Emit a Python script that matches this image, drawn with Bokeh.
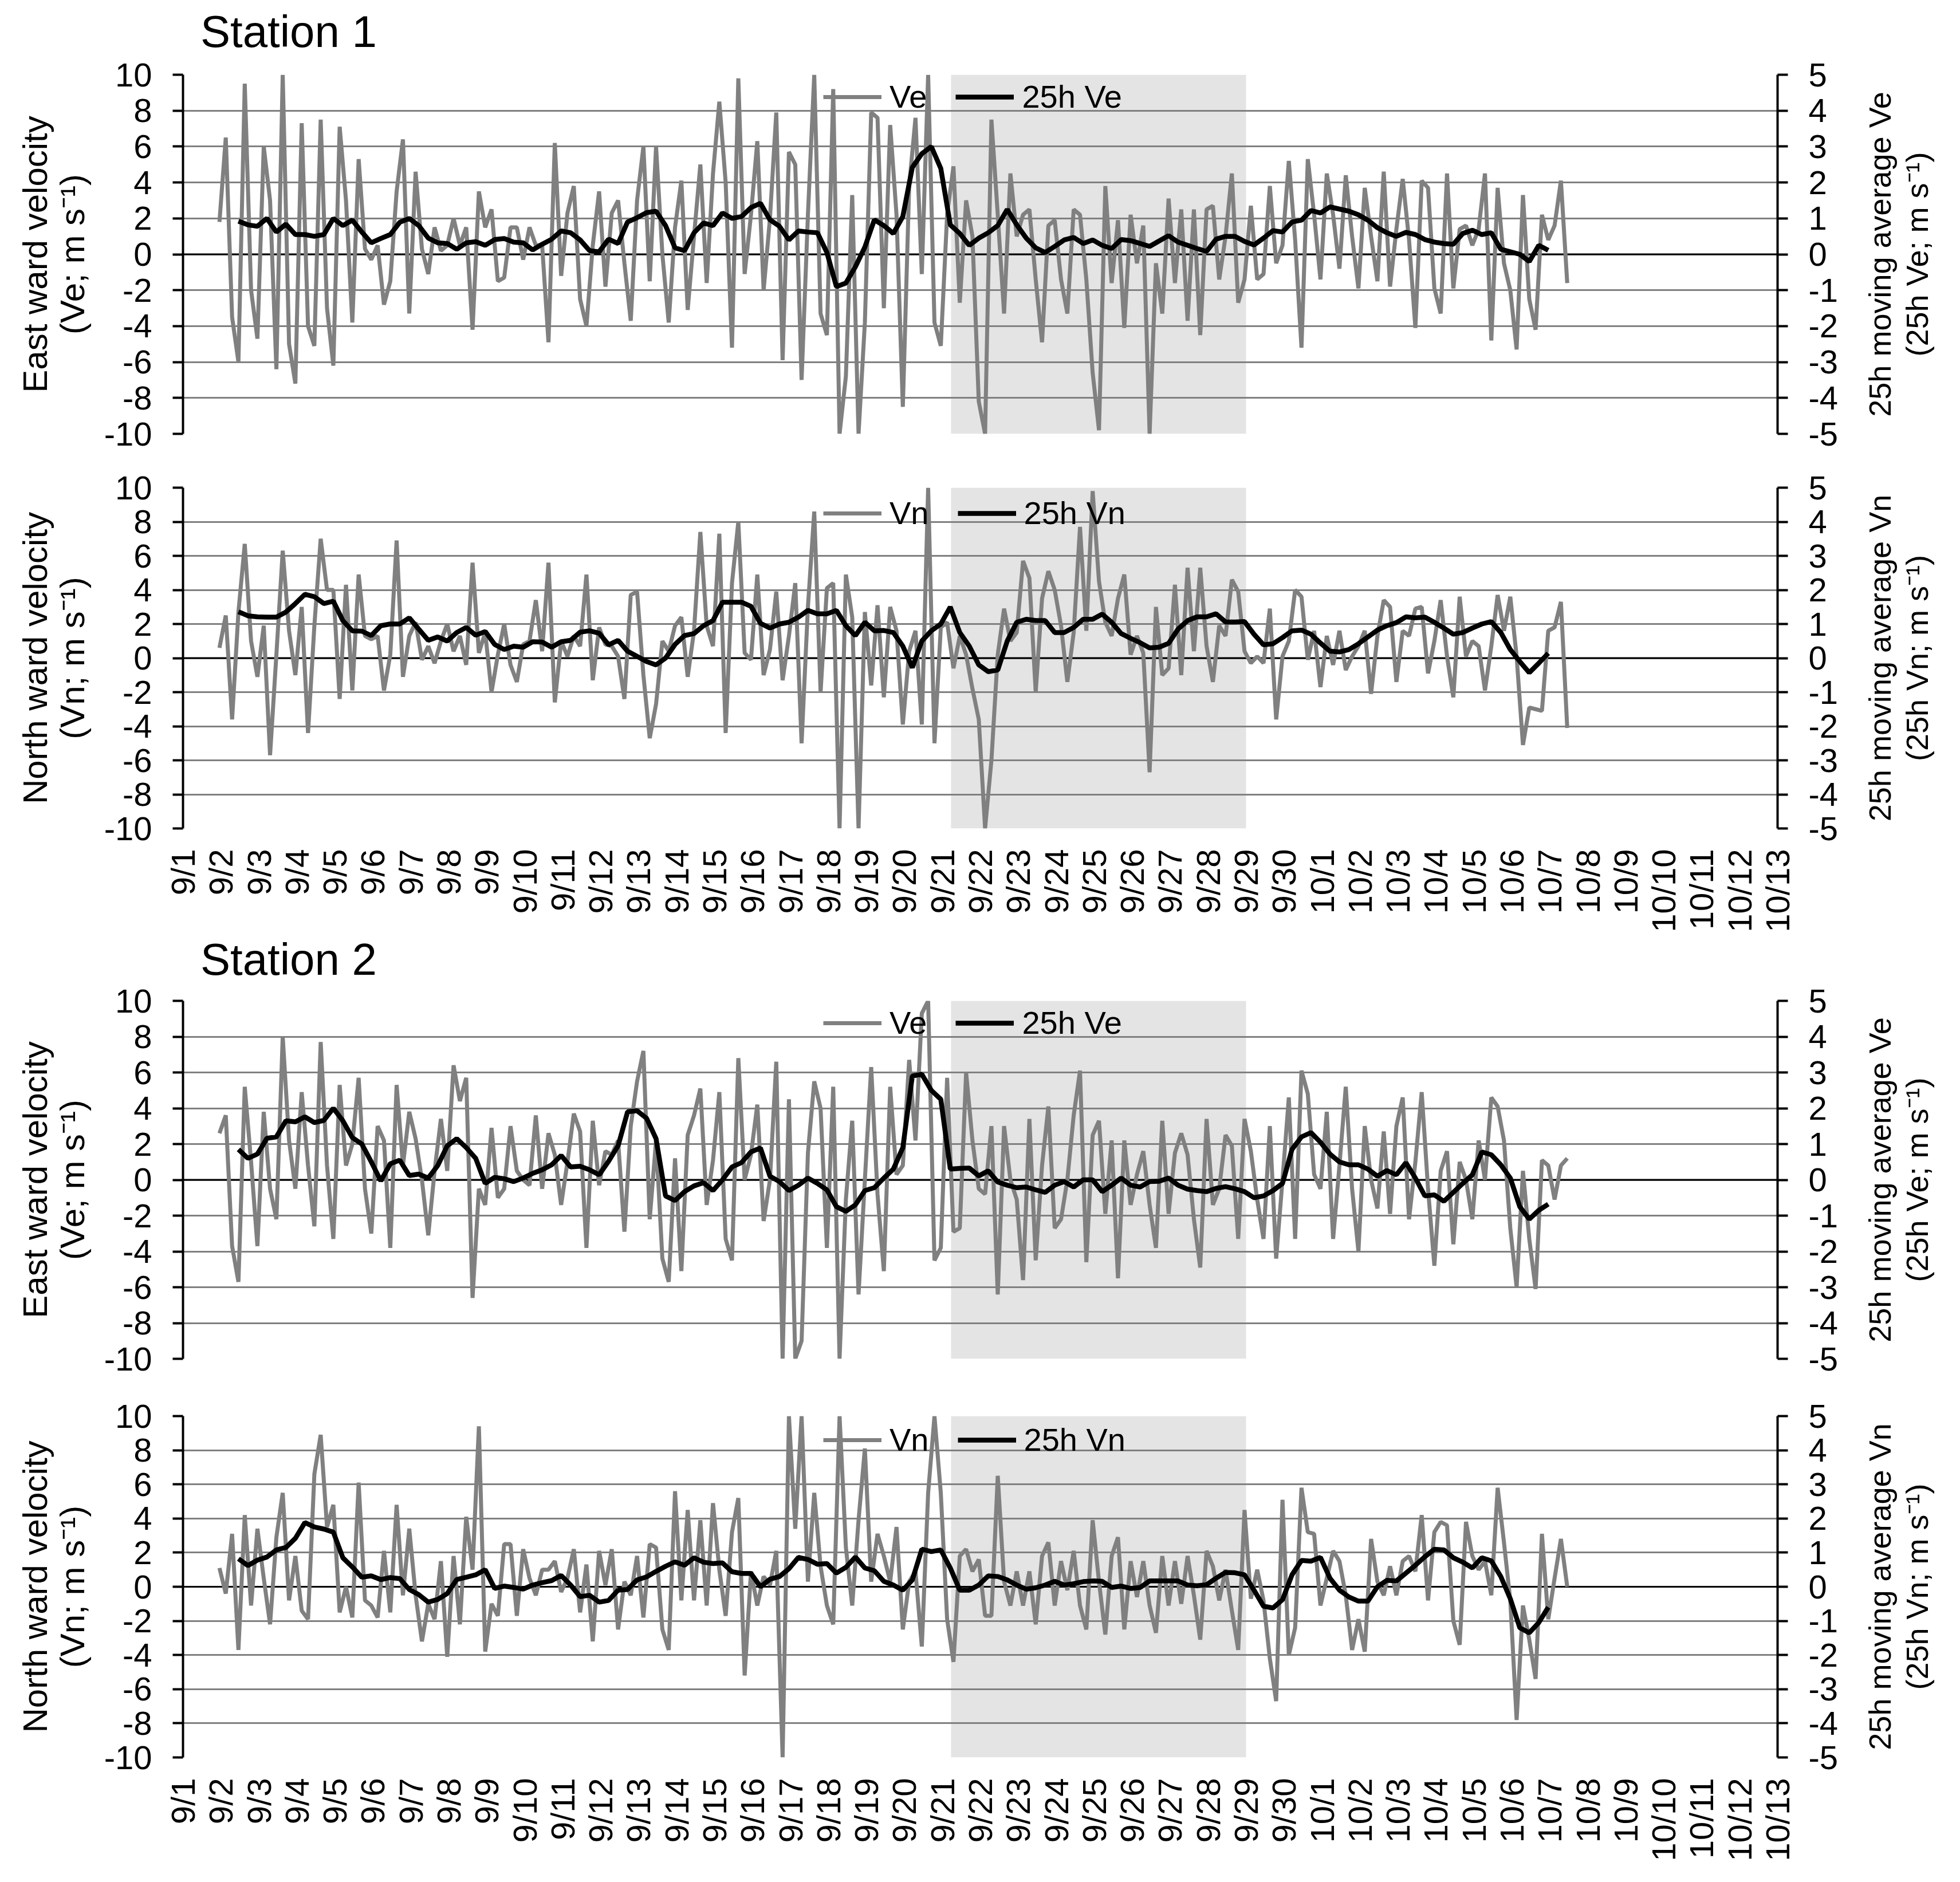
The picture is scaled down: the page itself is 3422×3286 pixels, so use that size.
import math
from bokeh.plotting import figure
from bokeh.models import (Range1d, LinearAxis, FixedTicker, Span, BoxAnnotation,
                          Legend, LegendItem, Div)
from bokeh.layouts import column, row
from bokeh.core.properties import value
from bokeh.embed import file_html
from bokeh.resources import INLINE

# ---------------- data ----------------
day_labels = ["9/1", "9/2", "9/3", "9/4", "9/5", "9/6", "9/7", "9/8", "9/9", "9/10",
              "9/11", "9/12", "9/13", "9/14", "9/15", "9/16", "9/17", "9/18", "9/19", "9/20",
              "9/21", "9/22", "9/23", "9/24", "9/25", "9/26", "9/27", "9/28", "9/29", "9/30",
              "10/1", "10/2", "10/3", "10/4", "10/5", "10/6", "10/7", "10/8", "10/9", "10/10",
              "10/11", "10/12", "10/13"]
left_ticks = [-10, -8, -6, -4, -2, 0, 2, 4, 6, 8, 10]
left_tick_labels = ["-10", "-8", "-6", "-4", "-2", "0", "2", "4", "6", "8", "10"]
right_ticks = [-5, -4, -3, -2, -1, 0, 1, 2, 3, 4, 5]
right_tick_labels = ["-5", "-4", "-3", "-2", "-1", "0", "1", "2", "3", "4", "5"]

# hourly series resampled every 4 h, starting 9/1 23:00 (days after 9/1 00:00)
raw_start, raw_step = 0.96, 1.0 / 6.0
# 25 h moving average every 6 h, starting 9/2 11:00
avg_start, avg_step = 1.46, 0.25
shade_start, shade_end = 20.23, 28.0

s1_ve = [1.8, 6.5, -3.5, -6.0, 9.5, -2.0, -4.7, 6.0, 3.0, -6.4,
         10.0, -5.0, -7.2, 7.3, -4.0, -5.1, 7.5, -3.0, -6.2, 7.1,
         3.0, -3.8, 5.3, 0.3, -0.3, 0.5, -2.8, -1.5, 3.5, 6.4,
         -3.3, 4.6, 0.3, -1.1, 1.5, 0.2, 0.5, 2.0, 0.5, 1.5,
         -4.2, 3.5, 1.5, 2.5, -1.5, -1.3, 1.5, 1.5, -0.3, 1.5,
         0.5, 0.5, -4.9, 6.2, -1.2, 2.3, 3.8, -2.5, -4.0, 0.5,
         3.5, -1.8, 2.3, 3.0, -0.5, -3.7, 3.0, 6.0, -1.5, 6.0,
         0.0, -3.8, 1.5, 4.1, -3.1, 1.0, 5.0, -1.6, 4.5, 8.5,
         4.0, -5.2, 9.8, -1.1, 2.2, 6.3, -2.0, 2.0, 7.9, -5.9,
         5.7, 5.0, -7.0, 2.2, 10.0, -3.3, -4.5, 9.2, -10.0, -6.8,
         3.3, -10.0, -3.8, 7.9, 7.6, -3.0, 7.2, 2.2, -8.5, 3.8,
         7.6, -1.1, 10.0, -3.8, -5.1, 2.2, 4.9, -2.7, 3.0, 1.0,
         -8.2, -10.0, 7.5, 2.2, -3.3, 4.5, 1.0, 2.2, 2.5, -1.4,
         -4.9, 1.6, 1.9, -1.4, -3.3, 2.5, 2.2, -1.4, -6.6, -9.8,
         3.8, -1.6, 1.9, -4.1, 2.2, -0.5, 1.6, -10.0, -0.5, -3.3,
         3.1, -1.6, 2.5, -3.7, 2.5, -4.5, 2.5, 2.7, -1.4, 1.0,
         4.5, -2.7, -1.4, 2.7, -1.4, -1.1, 3.8, -0.5, 0.5, 5.2,
         0.8, -5.2, 5.3, 2.2, -1.4, 4.5, 2.2, -0.8, 4.4, 1.0,
         -1.9, 3.7, 1.0, -1.5, 4.6, -1.8, 1.4, 4.2, 0.8, -4.1,
         4.1, 3.7, -1.9, -3.3, 4.5, -1.9, 1.4, 1.6, 0.5, 1.4,
         4.5, -4.8, 3.7, -0.5, -2.0, -5.3, 3.3, -2.5, -4.2, 2.2,
         0.8, 1.6, 4.1, -1.6]

s1_ve_25h = [0.92, 0.82, 0.78, 1.0, 0.62, 0.84, 0.55, 0.55, 0.5, 0.55,
             1.0, 0.8, 0.95, 0.62, 0.32, 0.44, 0.55, 0.89, 1.0, 0.8,
             0.45, 0.32, 0.30, 0.14, 0.32, 0.35, 0.25, 0.41, 0.44, 0.34,
             0.32, 0.12, 0.28, 0.42, 0.65, 0.6, 0.40, 0.10, 0.07, 0.42,
             0.30, 0.9, 1.02, 1.16, 1.2, 0.8, 0.18, 0.1, 0.6, 0.87,
             0.8, 1.15, 1.0, 1.05, 1.3, 1.42, 0.96, 0.78, 0.4, 0.65,
             0.62, 0.6, 0.05, -0.9, -0.8, -0.35, 0.2, 0.96, 0.8, 0.58,
             1.05, 2.42, 2.8, 3.0, 2.39, 0.82, 0.58, 0.25, 0.45, 0.6,
             0.8, 1.25, 0.82, 0.45, 0.18, 0.05, 0.22, 0.4, 0.47, 0.3,
             0.4, 0.25, 0.16, 0.41, 0.38, 0.3, 0.22, 0.37, 0.52, 0.34,
             0.25, 0.16, 0.08, 0.42, 0.5, 0.5, 0.36, 0.26, 0.45, 0.66,
             0.62, 0.9, 0.95, 1.22, 1.15, 1.32, 1.26, 1.2, 1.1, 0.95,
             0.74, 0.6, 0.5, 0.61, 0.55, 0.41, 0.34, 0.3, 0.28, 0.58,
             0.67, 0.55, 0.6, 0.14, 0.07, 0.0, -0.2, 0.25, 0.11]

s1_vn = [0.6, 2.5, -3.6, 2.7, 6.7, 1.0, -1.1, 1.9, -5.7, 0.2,
         6.3, 1.6, -1.0, 3.0, -4.4, 1.9, 7.0, 4.0, 4.0, -2.4,
         4.3, -1.9, 4.9, 1.3, 1.1, 1.3, -1.9, 0.2, 6.9, -1.1,
         1.3, 2.1, -0.1, 0.7, -0.3, 1.0, 2.0, 0.4, 1.3, -0.4,
         5.6, 0.3, 1.5, -2.0, 0.2, 2.0, -0.4, -1.4, 0.8, 1.0,
         3.4, 0.4, 5.6, -2.6, 1.0, 0.1, 1.3, 0.7, 4.9, -1.3,
         1.8, 0.8, 0.7, 0.1, -2.4, 3.7, 3.9, -1.0, -4.7, -2.7,
         1.0, 0.4, 1.9, 2.4, -1.1, 1.6, 7.4, 1.9, 0.7, 7.3,
         -4.4, 4.4, 8.0, 0.3, -0.1, 4.9, -1.0, 0.5, 3.9, -1.3,
         1.3, 4.4, -5.0, 3.0, 8.6, -2.0, 4.1, 4.4, -10.0, 4.9,
         2.4, -10.0, 2.7, -1.6, 3.1, -2.3, 3.0, 1.6, -3.9, 0.4,
         1.6, -3.9, 10.0, -5.0, 1.8, 2.1, -0.6, 1.3, 0.2, -1.8,
         -3.6, -10.0, -6.0, 0.2, 2.9, 1.0, 1.5, 5.7, 4.7, -2.0,
         3.5, 5.1, 4.0, 1.9, -1.4, 1.5, 7.7, 1.6, 9.8, 4.5,
         2.1, 1.3, 3.5, 4.9, 0.2, 1.3, 0.3, -6.7, 3.0, -1.0,
         -0.6, 4.3, -1.0, 5.3, 0.4, 5.3, 0.7, -1.4, 1.9, 1.3,
         4.6, 3.9, 0.4, -0.3, 0.1, -0.3, 2.9, -3.6, 0.1, 1.0,
         4.0, 3.6, -0.1, 1.6, -1.7, 1.3, -0.4, 1.6, -0.7, 0.1,
         0.7, 1.6, -2.1, 1.3, 3.4, 3.0, -1.4, 1.6, 1.3, 2.9,
         3.0, -0.9, 1.0, 3.4, 0.1, -2.3, 3.6, 0.1, 1.0, 0.7,
         -1.9, 0.7, 3.7, 1.6, 3.6, 0.1, -5.1, -2.9, -3.0, -3.1,
         1.6, 1.8, 3.3, -4.1]

s1_vn_25h = [1.36, 1.24, 1.21, 1.2, 1.2, 1.35, 1.6, 1.87, 1.8, 1.6,
             1.67, 1.1, 0.8, 0.79, 0.66, 0.95, 1.0, 1.0, 1.18, 0.85,
             0.52, 0.62, 0.5, 0.75, 0.9, 0.67, 0.78, 0.4, 0.25, 0.35,
             0.32, 0.48, 0.47, 0.32, 0.48, 0.52, 0.76, 0.8, 0.73, 0.39,
             0.52, 0.2, 0.05, -0.1, -0.2, 0.0, 0.4, 0.66, 0.72, 0.95,
             1.1, 1.64, 1.64, 1.64, 1.52, 1.02, 0.88, 1.0, 1.05, 1.2,
             1.4, 1.3, 1.3, 1.4, 0.95, 0.66, 1.05, 0.8, 0.81, 0.75,
             0.35, -0.28, 0.5, 0.8, 1.0, 1.5, 0.75, 0.35, -0.2, -0.4,
             -0.35, 0.5, 1.05, 1.14, 1.1, 1.1, 0.75, 0.75, 0.9, 1.14,
             1.14, 1.29, 1.05, 0.72, 0.58, 0.45, 0.3, 0.32, 0.43, 0.85,
             1.1, 1.21, 1.21, 1.3, 1.06, 1.06, 1.07, 0.7, 0.39, 0.42,
             0.6, 0.8, 0.82, 0.7, 0.44, 0.2, 0.18, 0.25, 0.42, 0.62,
             0.82, 0.95, 1.04, 1.21, 1.18, 1.2, 1.05, 0.88, 0.7, 0.75,
             0.88, 1.0, 1.07, 0.75, 0.25, -0.1, -0.43, -0.15, 0.14]

s2_ve = [2.6, 3.6, -3.7, -5.7, 5.2, 1.0, -3.7, 3.8, -0.5, -2.2,
         8.0, 2.2, -0.5, 4.9, 0.8, -2.6, 7.7, 0.8, -3.3, 5.3,
         0.8, 2.0, 5.7, -0.5, -3.0, 3.0, 2.2, -3.8, 5.3, 0.8,
         3.8, 2.3, 0.0, -3.1, 0.5, 3.4, 0.5, 6.4, 4.4, 5.7,
         -6.6, -0.5, -1.4, 2.9, -1.0, -0.5, 3.0, 0.5, 0.0, -0.3,
         3.6, -0.5, 2.6, 1.4, -1.4, 1.0, 3.7, 2.7, -3.8, 3.3,
         -0.3, 1.6, 1.4, 2.2, -2.9, 3.0, 5.5, 7.2, -2.2, 2.2,
         -4.4, -5.7, 1.2, -5.1, 2.5, 3.6, 5.1, -1.4, 1.1, 4.9,
         -3.3, -4.5, 6.8, 0.0, 1.4, 4.2, -2.3, 0.0, 6.6, -10.0,
         4.5, -10.0, -9.0, 1.5, 5.5, 4.0, -3.8, 5.2, -10.0, -1.1,
         3.3, -6.4, 0.0, 6.3, -0.8, -5.1, 5.2, 0.3, 0.8, 6.7,
         2.2, 9.3, 10.0, -4.5, -3.8, 5.7, -2.9, -2.7, 6.0, 2.2,
         -0.5, -0.8, 3.0, -6.4, 3.0, 0.0, -1.1, -5.6, 3.4, -4.5,
         0.8, 4.1, -2.7, -2.2, 0.0, 3.6, 6.1, -4.6, 2.5, 3.3,
         -1.9, 2.2, -5.5, 2.2, -1.4, 0.3, 1.6, -1.4, -3.8, 3.3,
         -1.9, 1.5, 2.6, 1.4, -2.2, -4.9, 3.4, -1.4, -0.5, 2.5,
         1.9, -3.3, 3.4, 1.6, -1.1, -3.3, 3.0, -4.4, 0.0, 4.6,
         -3.3, 6.1, 4.8, 0.3, -0.5, 3.8, -3.3, 0.8, 5.2, -0.5,
         -4.0, 3.0, 0.0, -1.6, 2.7, -1.9, 3.0, 4.6, -2.2, 1.0,
         4.9, -0.5, -4.8, 0.5, 1.6, -3.6, 1.0, 0.0, -2.2, 2.2,
         0.0, 4.6, 4.1, 2.2, -2.7, -6.0, 0.5, -3.3, -6.1, 1.1,
         0.8, -1.1, 0.8, 1.2]

s2_ve_25h = [0.85, 0.6, 0.72, 1.16, 1.2, 1.65, 1.62, 1.76, 1.6, 1.66,
             2.0, 1.65, 1.18, 1.0, 0.5, -0.03, 0.45, 0.55, 0.12, 0.16,
             0.05, 0.4, 0.95, 1.15, 0.9, 0.6, -0.1, 0.07, 0.03, -0.05,
             0.05, 0.18, 0.28, 0.42, 0.68, 0.36, 0.38, 0.28, 0.14, 0.52,
             0.95, 1.9, 1.93, 1.72, 1.15, -0.45, -0.58, -0.33, -0.17, -0.08,
             -0.3, 0.0, 0.36, 0.48, 0.78, 0.89, 0.1, -0.05, -0.3, -0.15,
             0.05, -0.1, -0.28, -0.75, -0.88, -0.7, -0.3, -0.22, 0.05, 0.3,
             0.9, 2.9, 2.95, 2.5, 2.25, 0.3, 0.32, 0.33, 0.11, 0.25,
             -0.06, -0.15, -0.22, -0.2, -0.28, -0.35, -0.15, -0.05, -0.2, 0.0,
             0.0, -0.33, -0.15, 0.05, -0.15, -0.2, -0.05, -0.04, 0.05, -0.15,
             -0.26, -0.3, -0.33, -0.24, -0.19, -0.25, -0.33, -0.5, -0.45, -0.3,
             -0.1, 0.85, 1.2, 1.32, 1.05, 0.72, 0.5, 0.42, 0.42, 0.3,
             0.1, 0.26, 0.14, 0.48, 0.05, -0.45, -0.42, -0.6, -0.35, -0.1,
             0.14, 0.78, 0.7, 0.42, 0.05, -0.75, -1.1, -0.85, -0.68]

s2_vn = [1.1, -0.4, 3.1, -3.7, 4.2, -1.1, 3.4, 0.5, -2.2, 2.9,
         5.5, -0.8, 1.8, -1.4, -1.9, 6.6, 8.9, 3.5, 4.8, -1.5,
         0.0, -1.8, 6.1, -0.8, -1.1, -1.8, 2.1, -1.5, 4.8, -0.5,
         3.4, -0.5, -3.2, -1.0, -1.9, 1.5, -4.1, 1.8, -2.2, 4.1,
         1.0, 9.4, -3.8, -1.0, -1.7, 2.5, 2.5, -1.7, 2.2, 0.5,
         -0.5, 1.0, 1.0, 1.5, -0.3, 0.5, 2.2, -1.5, 1.3, -3.2,
         2.1, 0.1, 2.2, -2.5, 0.3, -0.5, 1.8, -1.8, 2.5, 2.3,
         -2.5, -3.7, 5.6, -0.8, 4.5, -0.8, 3.9, -1.1, 4.9, 1.0,
         -1.7, 3.2, 5.2, -5.2, 0.9, -1.1, 0.6, 0.1, 2.1, -10.0,
         10.0, 3.4, 10.0, 0.3, 5.5, 1.2, -1.1, -2.2, 10.0, 2.3,
         -1.1, 3.9, 8.1, 0.3, 3.1, 1.8, 0.3, 3.5, -2.5, 0.3,
         0.9, -3.5, 5.5, 10.0, 5.5, -1.9, -4.4, 1.8, 2.2, 0.9,
         1.6, -1.7, -1.7, 6.5, 0.3, -1.1, 0.9, -1.1, 0.9, -2.2,
         1.8, 2.6, -1.1, 1.5, -0.2, 2.1, -1.1, -2.5, 3.9, 0.3,
         -2.8, 1.8, 2.9, -2.5, 1.5, -0.6, 1.5, -1.1, -2.7, 1.8,
         -1.1, 1.5, -1.0, 1.8, -0.5, -3.1, 2.1, 1.2, -0.8, 1.0,
         -1.4, -3.7, 4.5, -0.7, 1.0, -0.8, -4.2, -6.7, 5.1, -4.0,
         -2.4, 5.8, 3.2, 3.1, -1.1, 0.5, 2.1, 1.5, -0.5, -3.7,
         -1.9, -3.8, 2.8, 0.3, -0.5, 1.2, -0.5, 1.5, 1.8, 0.9,
         4.2, -0.8, 3.2, 3.8, 3.6, -2.0, -3.4, 3.8, 1.8, 1.0,
         1.5, -0.5, 5.8, 2.6, -0.8, -7.8, -1.1, -3.1, -5.4, 3.1,
         -1.9, 0.5, 2.8, 0.0]

s2_vn_25h = [0.82, 0.62, 0.78, 0.87, 1.08, 1.15, 1.42, 1.88, 1.75, 1.69,
             1.6, 0.85, 0.58, 0.28, 0.32, 0.21, 0.27, 0.24, -0.08, -0.23,
             -0.45, -0.37, -0.2, 0.21, 0.28, 0.35, 0.5, -0.05, 0.02, -0.02,
             -0.07, 0.05, 0.12, 0.18, 0.33, 0.05, -0.29, -0.25, -0.45, -0.4,
             -0.1, -0.08, 0.2, 0.29, 0.45, 0.6, 0.73, 0.63, 0.85, 0.72,
             0.68, 0.7, 0.44, 0.39, 0.39, 0.0, 0.22, 0.3, 0.53, 0.86,
             0.8, 0.66, 0.68, 0.4, 0.57, 0.87, 0.55, 0.47, 0.16, 0.05,
             -0.1, 0.2, 1.1, 1.03, 1.08, 0.55, -0.1, -0.1, 0.05, 0.32,
             0.3, 0.2, 0.05, -0.07, -0.03, 0.05, 0.16, 0.05, 0.09, 0.15,
             0.17, 0.16, -0.02, 0.02, -0.05, -0.02, 0.17, 0.17, 0.17, 0.17,
             0.05, 0.03, 0.06, 0.25, 0.42, 0.41, 0.35, -0.1, -0.57, -0.62,
             -0.38, 0.35, 0.77, 0.75, 0.86, 0.25, -0.1, -0.3, -0.42, -0.42,
             0.0, 0.19, 0.17, 0.4, 0.63, 0.88, 1.1, 1.08, 0.85, 0.72,
             0.55, 0.85, 0.76, 0.3, -0.35, -1.2, -1.35, -1.05, -0.6]

# ---------------- styling / layout ----------------
FONT = "Liberation Sans"
GRAY = "#808080"
GRID = "#808080"
SHADE = "#e4e4e4"
TOTAL_W = 3406
LEFT_W = 178                        # side strips carrying the rotated axis titles
MAIN_W = 3052
RIGHT_W = TOTAL_W - LEFT_W - MAIN_W
MB_LEFT, MB_RIGHT = 138, 127        # frame spans 2787 px
TICK_FS = "58px"
XTICK_FS = "58px"
LEFT_TITLE_FS = "60px"
RIGHT_TITLE_FS = "54px"
LEGEND_FS = "56px"


def station_title(text, height, pad_top):
    return Div(text=text, width=TOTAL_W, height=height, margin=(0, 0, 0, 0),
               styles={"font-family": FONT, "font-size": "78px", "line-height": "78px",
                       "color": "black", "padding-top": f"{pad_top}px",
                       "padding-left": "350px", "box-sizing": "border-box",
                       "white-space": "nowrap"})


def side_strip(width, height, top, bottom, xs, lines, fs):
    frame_h = height - top - bottom
    s = figure(width=width, height=height, x_range=Range1d(0, width),
               y_range=Range1d(-frame_h / 2.0, frame_h / 2.0),
               x_axis_type=None, y_axis_type=None,
               output_backend="svg", toolbar_location=None,
               min_border_left=0, min_border_right=0, min_border_top=top,
               min_border_bottom=bottom, outline_line_color=None,
               background_fill_color="white", border_fill_color="white")
    s.text(x=xs, y=[0] * len(xs), text=lines, angle=math.pi / 2,
           text_align="center", text_baseline="middle", text_color="black",
           text_font=value(FONT), text_font_size=value(fs))
    return s


def make_row(height, top, bottom, raw, avg, comp, legend_y, show_dates=False):
    p = figure(width=MAIN_W, height=height, x_range=Range1d(0, 42), y_range=Range1d(-10, 10),
               output_backend="svg", toolbar_location=None,
               min_border_left=MB_LEFT, min_border_right=MB_RIGHT,
               min_border_top=top, min_border_bottom=bottom,
               outline_line_color=None, background_fill_color="white",
               border_fill_color="white")
    p.extra_y_ranges = {"avg": Range1d(-5, 5)}

    # shaded period
    p.add_layout(BoxAnnotation(left=shade_start, right=shade_end, fill_color=SHADE,
                               fill_alpha=1.0, line_color=None, level="image"))

    # grid
    p.xgrid.visible = False
    p.ygrid.ticker = FixedTicker(ticks=left_ticks)
    p.ygrid.grid_line_color = GRID
    p.ygrid.grid_line_width = 3

    ly = p.yaxis[0]
    ly.ticker = FixedTicker(ticks=left_ticks)
    ly.major_label_overrides = dict(zip(left_ticks, left_tick_labels))
    ry = LinearAxis(y_range_name="avg", ticker=FixedTicker(ticks=right_ticks))
    ry.major_label_overrides = dict(zip(right_ticks, right_tick_labels))
    p.add_layout(ry, "right")

    for ax in (ly, ry):
        ax.axis_line_color = "black"
        ax.axis_line_width = 4
        ax.major_tick_line_color = "black"
        ax.major_tick_line_width = 4
        ax.major_tick_out = 18
        ax.major_tick_in = 0
        ax.minor_tick_out = 0
        ax.minor_tick_in = 0
        ax.major_label_text_font = FONT
        ax.major_label_text_font_size = TICK_FS
        ax.major_label_text_color = "black"
        ax.major_label_standoff = 36

    xa = p.xaxis[0]
    if show_dates:
        xa.ticker = FixedTicker(ticks=list(range(len(day_labels))))
        xa.major_label_overrides = {i: lab for i, lab in enumerate(day_labels)}
        xa.major_label_orientation = math.pi / 2
        xa.axis_line_color = None
        xa.major_tick_line_color = None
        xa.minor_tick_line_color = None
        xa.major_tick_out = 0
        xa.major_tick_in = 0
        xa.minor_tick_out = 0
        xa.major_label_standoff = 36
        xa.major_label_text_font = FONT
        xa.major_label_text_font_size = XTICK_FS
        xa.major_label_text_color = "black"
    else:
        xa.visible = False

    # horizontal axis line at zero
    p.add_layout(Span(location=0, dimension="width", line_color="black",
                      line_width=3, level="underlay"))

    t_raw = [raw_start + i * raw_step for i in range(len(raw))]
    t_avg = [avg_start + j * avg_step for j in range(len(avg))]
    r_raw = p.line(t_raw, raw, line_color=GRAY, line_width=7)
    r_avg = p.line(t_avg, avg, y_range_name="avg", line_color="black", line_width=8.5)

    leg = Legend(items=[LegendItem(label=comp, renderers=[r_raw]),
                        LegendItem(label=f"25h {comp}", renderers=[r_avg])],
                 orientation="horizontal", location=(1118, legend_y),
                 border_line_color=None, background_fill_alpha=0.0,
                 padding=0, margin=0, spacing=50, label_standoff=14,
                 glyph_width=102, glyph_height=62, label_height=62,
                 label_text_font=FONT, label_text_font_size=LEGEND_FS,
                 label_text_color="black")
    p.add_layout(leg)

    name = "East ward velocity" if comp == "Ve" else "North ward velocity"
    left = side_strip(LEFT_W, height, top, bottom, [61, 126],
                      [name, f"({comp}; m s\u207b\u00b9)"], LEFT_TITLE_FS)
    right = side_strip(RIGHT_W, height, top, bottom, [51, 116],
                       [f"25h moving average {comp}", f"(25h {comp}; m s\u207b\u00b9)"],
                       RIGHT_TITLE_FS)
    return row(left, p, right)


t1 = station_title("Station 1", 86, 16)
r1 = make_row(718, 44, 47, s1_ve, s1_ve_25h, "Ve", 556)
r2 = make_row(826, 47, 181, s1_vn, s1_vn_25h, "Vn", 518, show_dates=True)
t2 = station_title("Station 2", 76, 6)
r3 = make_row(714, 41, 48, s2_ve, s2_ve_25h, "Ve", 554)
r4 = make_row(850, 52, 202, s2_vn, s2_vn_25h, "Vn", 522, show_dates=True)

layout = column(t1, r1, r2, t2, r3, r4)
open("out.html", "w").write(file_html(layout, INLINE))
